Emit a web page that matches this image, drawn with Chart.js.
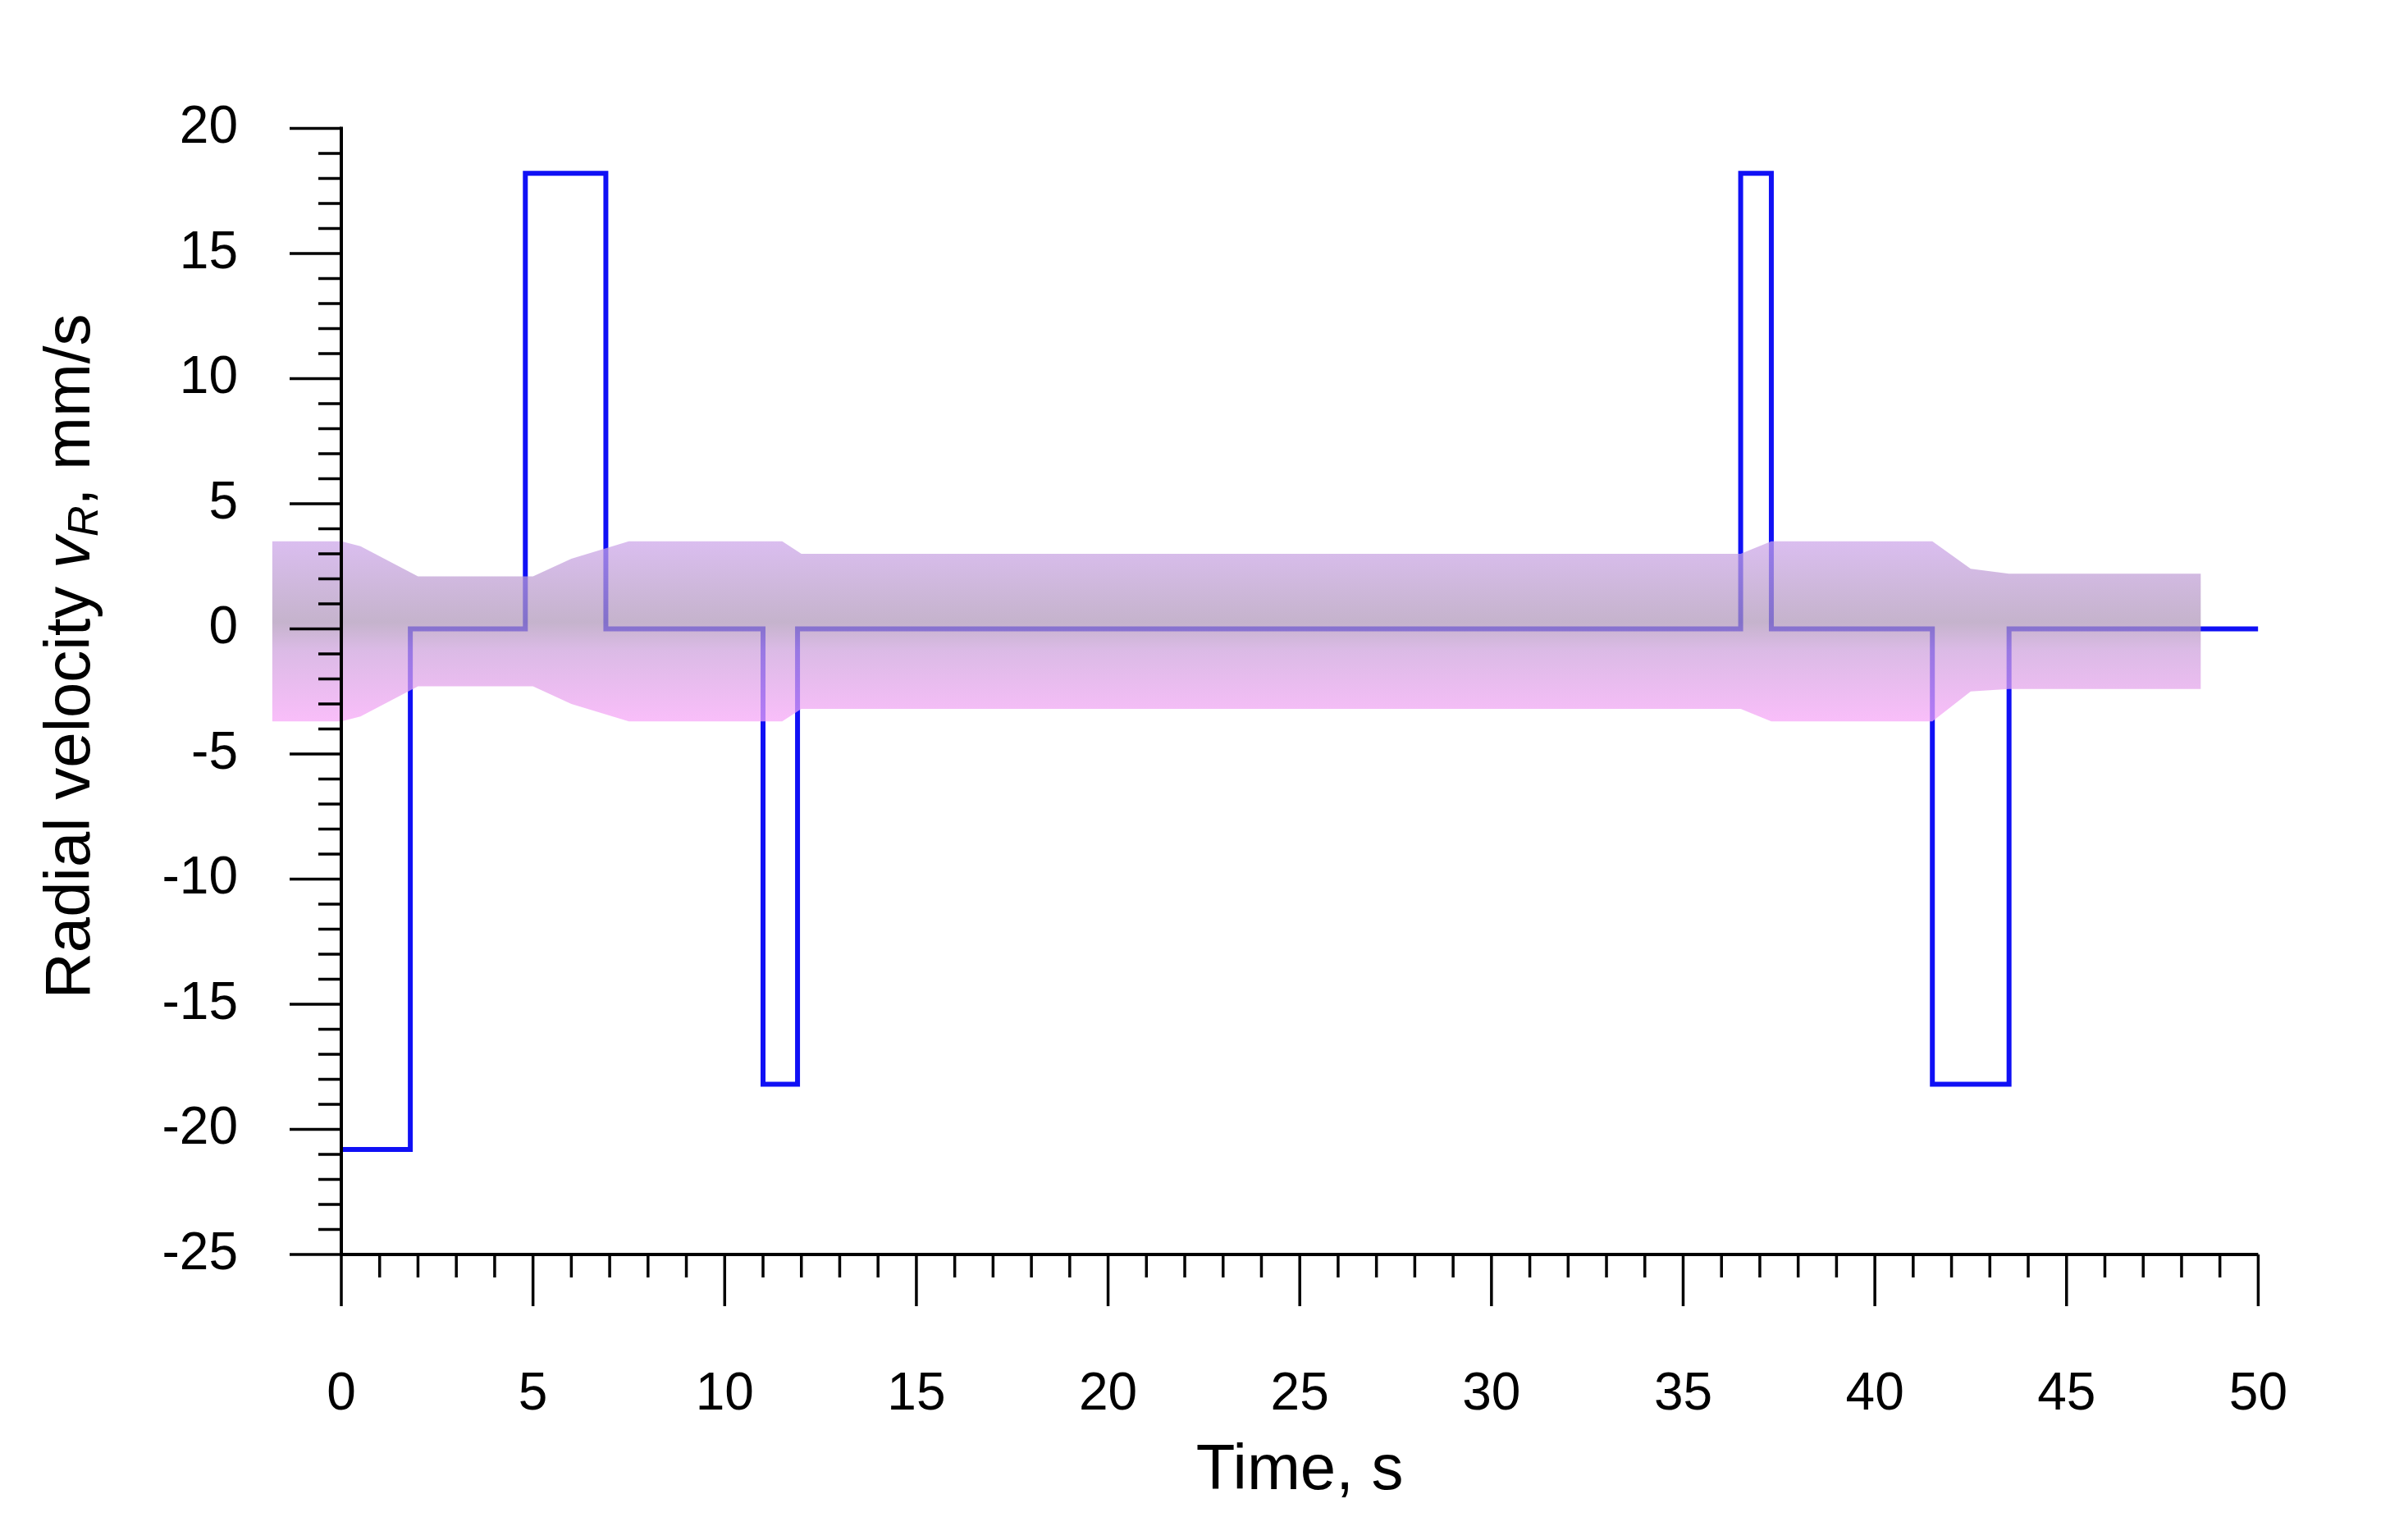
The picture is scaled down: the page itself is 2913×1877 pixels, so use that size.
<!DOCTYPE html>
<html>
<head>
<meta charset="utf-8">
<script src="https://cdn.jsdelivr.net/npm/chart.js@4"></script>
<style>
  html, body { margin: 0; padding: 0; background: #fff; }
  #wrap { width: 2913px; height: 1877px; }
</style>
</head>
<body>
<div id="wrap"><canvas id="myChart"></canvas></div>
<script>
// step line: value holds from each time until the next one
const stepTimes  = [0, 1.8, 4.8, 6.9, 11.0, 11.9, 36.5, 37.3, 41.5, 43.5, 50];
const stepValues = [-20.8, 0, 18.2, 0, -18.2, 0, 18.2, 0, -18.2, 0, 0];

// shaded band (tube outline)
const bandTimes = [-1.8, 0, 0.5, 2.0, 5.0, 6.0, 7.5, 11.5, 12.0, 36.5, 37.3, 41.5, 42.5, 43.5, 48.5];
const bandUpper = [3.5, 3.5, 3.3, 2.1, 2.1, 2.8, 3.5, 3.5, 3.0, 3.0, 3.5, 3.5, 2.4, 2.2, 2.2];
const bandLower = [-3.7, -3.7, -3.5, -2.3, -2.3, -3.0, -3.7, -3.7, -3.2, -3.2, -3.7, -3.7, -2.5, -2.4, -2.4];

const xTicks = [0, 5, 10, 15, 20, 25, 30, 35, 40, 45, 50];
const yTicks = [-25, -20, -15, -10, -5, 0, 5, 10, 15, 20];

const FONT = '"Liberation Sans", Arial, sans-serif';

// step points: hold each value until the next time
function stepPts(xs, ys) {
    const out = [];
    xs.forEach((x, i) => {
        if (i > 0) out.push({ x: x, y: ys[i - 1] });
        out.push({ x: x, y: ys[i] });
    });
    return out;
}

// band drawn over the line (not clipped, it starts left of the axis)
const bandPlugin = {
    id: 'bandPlugin',
    afterDatasetsDraw(chart) {
        const c = chart.ctx, xs = chart.scales.x, ys = chart.scales.y;
        const g = c.createLinearGradient(0, ys.getPixelForValue(3.6), 0, ys.getPixelForValue(-3.8));
        g.addColorStop(0, 'rgba(205,165,235,0.72)');
        g.addColorStop(0.45, 'rgba(175,150,185,0.72)');
        g.addColorStop(0.6, 'rgba(205,160,220,0.72)');
        g.addColorStop(1, 'rgba(248,165,248,0.72)');
        c.save();
        c.beginPath();
        bandTimes.forEach((t, i) => {
            const px = xs.getPixelForValue(t), py = ys.getPixelForValue(bandUpper[i]);
            if (i === 0) c.moveTo(px, py); else c.lineTo(px, py);
        });
        for (let i = bandTimes.length - 1; i >= 0; i--) {
            c.lineTo(xs.getPixelForValue(bandTimes[i]), ys.getPixelForValue(bandLower[i]));
        }
        c.closePath();
        c.fillStyle = g;
        c.fill();
        c.restore();
    }
};

// axis lines, ticks and the titles
const axesPlugin = {
    id: 'axesPlugin',
    afterDraw(chart) {
        const c = chart.ctx, a = chart.chartArea, xs = chart.scales.x, ys = chart.scales.y;
        c.save();
        c.strokeStyle = '#000';
        c.lineWidth = 4;
        c.beginPath();
        c.moveTo(a.left, a.top - 2); c.lineTo(a.left, a.bottom);
        c.lineTo(a.right, a.bottom);
        c.stroke();
        c.lineWidth = 3.5;
        c.beginPath();
        for (let v = -25; v <= 20; v++) {
            const p = ys.getPixelForValue(v);
            const len = v % 5 === 0 ? 63 : 28;
            c.moveTo(a.left, p); c.lineTo(a.left - len, p);
        }
        for (let v = 0; v <= 50; v++) {
            const p = xs.getPixelForValue(v);
            const len = v % 5 === 0 ? 63 : 28;
            c.moveTo(p, a.bottom); c.lineTo(p, a.bottom + len);
        }
        c.stroke();

        c.fillStyle = '#000';
        c.font = '78px ' + FONT;
        c.textAlign = 'center';
        c.textBaseline = 'middle';
        c.fillText('Time, s', (a.left + a.right) / 2, 1793);

        const parts = [
            { t: 'Radial velocity ', f: '78px ' + FONT, dy: 0 },
            { t: 'v', f: 'italic 78px ' + FONT, dy: 0 },
            { t: 'R', f: 'italic 52px ' + FONT, dy: 18 },
            { t: ', mm/s', f: '78px ' + FONT, dy: 0 }
        ];
        let total = 0;
        parts.forEach(p => { c.font = p.f; p.w = c.measureText(p.t).width; total += p.w; });
        c.translate(87, 800);
        c.rotate(-Math.PI / 2);
        c.textAlign = 'left';
        let x = -total / 2;
        parts.forEach(p => { c.font = p.f; c.fillText(p.t, x, p.dy); x += p.w; });
        c.restore();
    }
};

const config = {
    type: 'line',
    data: {
        datasets: [{
            label: 'vR',
            data: stepPts(stepTimes, stepValues),
            borderColor: '#1010f5',
            borderWidth: 6,
            pointRadius: 0,
            fill: false
        }]
    },
    options: {
        responsive: true,
        maintainAspectRatio: false,
        animation: false,
        layout: { padding: { top: 8, right: 0, left: 0, bottom: 0 } },
        plugins: {
            legend: { display: false },
            tooltip: { enabled: false }
        },
        scales: {
            x: {
                type: 'linear', min: 0, max: 50,
                afterFit: s => { s.height = 348; },
                afterBuildTicks: s => { s.ticks = xTicks.map(v => ({ value: v })); },
                grid: { display: false },
                border: { display: false },
                ticks: { color: '#000', font: { size: 64, family: FONT }, padding: 125, maxRotation: 0 }
            },
            y: {
                type: 'linear', min: -25, max: 20,
                afterFit: s => { s.width = 416; },
                afterBuildTicks: s => { s.ticks = yTicks.map(v => ({ value: v })); },
                grid: { display: false },
                border: { display: false },
                ticks: { color: '#000', font: { size: 64, family: FONT }, padding: 118 }
            }
        }
    },
    plugins: [bandPlugin, axesPlugin]
};

const myChart = new Chart(document.getElementById('myChart'), config);
</script>
</body>
</html>
